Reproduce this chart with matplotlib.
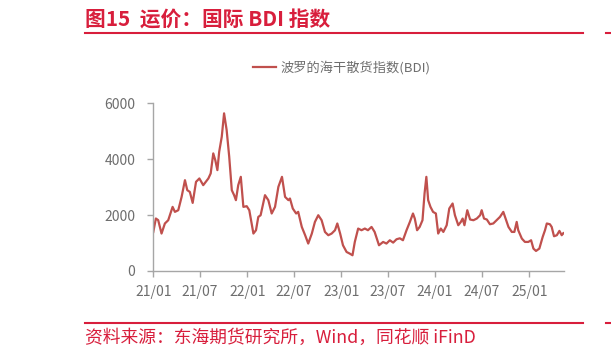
import numpy as np
import pandas as pd
import matplotlib
matplotlib.use("Agg")
from matplotlib import pyplot as plt
import matplotlib.dates as mdates
from matplotlib.lines import Line2D

plt.rcParams['font.family'] = ['Noto Sans CJK SC', 'DejaVu Sans']

# BDI values
dates = [
    "2021-01-01", "2021-01-11", "2021-01-20", "2021-02-02", "2021-02-15", "2021-02-28",
    "2021-03-17", "2021-03-26", "2021-04-08", "2021-04-21", "2021-05-04", "2021-05-13",
    "2021-05-23", "2021-06-03", "2021-06-16", "2021-06-29", "2021-07-14", "2021-08-03",
    "2021-08-12", "2021-08-22", "2021-08-30", "2021-09-07", "2021-09-14", "2021-09-24",
    "2021-10-03", "2021-10-13", "2021-10-23", "2021-11-02", "2021-11-11", "2021-11-18",
    "2021-11-27", "2021-12-07", "2021-12-17", "2021-12-30",
    "2022-01-09", "2022-01-25", "2022-02-04", "2022-02-13", "2022-02-22", "2022-03-11",
    "2022-03-24", "2022-04-06", "2022-04-19", "2022-05-02", "2022-05-16", "2022-05-28",
    "2022-06-10", "2022-06-16", "2022-06-27", "2022-07-10", "2022-07-18", "2022-08-01",
    "2022-08-14", "2022-08-26", "2022-09-09", "2022-09-21", "2022-10-04", "2022-10-17",
    "2022-10-30", "2022-11-12", "2022-11-25", "2022-12-08", "2022-12-17", "2022-12-28",
    "2023-01-08", "2023-01-22", "2023-02-03", "2023-02-14", "2023-02-23", "2023-03-08",
    "2023-03-21", "2023-04-03", "2023-04-15", "2023-04-29", "2023-05-11", "2023-05-28",
    "2023-06-13", "2023-06-26", "2023-07-09", "2023-07-22", "2023-08-04", "2023-08-17",
    "2023-08-29", "2023-09-12", "2023-09-25", "2023-10-07", "2023-10-14", "2023-10-23",
    "2023-11-02", "2023-11-13", "2023-11-21", "2023-11-28", "2023-12-05", "2023-12-14",
    "2023-12-24",
    "2024-01-04", "2024-01-13", "2024-01-23", "2024-02-02", "2024-02-15", "2024-02-25",
    "2024-03-09", "2024-03-18", "2024-03-31", "2024-04-10", "2024-04-17", "2024-04-24",
    "2024-05-05", "2024-05-16", "2024-05-29", "2024-06-11", "2024-06-24", "2024-06-30",
    "2024-07-09", "2024-07-20", "2024-08-01", "2024-08-14", "2024-08-27", "2024-09-09",
    "2024-09-22", "2024-10-03", "2024-10-12", "2024-10-25", "2024-11-04", "2024-11-13",
    "2024-11-19", "2024-12-03", "2024-12-15", "2024-12-28",
    "2025-01-08", "2025-01-17", "2025-01-27", "2025-02-09", "2025-02-22", "2025-03-03",
    "2025-03-10", "2025-03-22", "2025-03-29", "2025-04-07", "2025-04-18", "2025-04-28",
    "2025-05-07", "2025-05-14", "2025-05-20",
]
bdi = [
    1398, 1878, 1820, 1340, 1700, 1817,
    2294, 2115, 2175, 2652, 3250, 2892,
    2830, 2437, 3190, 3311, 3071, 3311,
    3491, 4207, 3960, 3609, 4265, 4803,
    5641, 5043, 4086, 2892, 2713, 2534,
    3071, 3369, 2294, 2319,
    2175, 1340, 1459, 1935, 1995, 2713,
    2534, 2057, 2294, 3011, 3369, 2652,
    2534, 2594, 2235, 2057, 2117, 1577,
    1280, 982, 1340, 1756, 1996, 1817,
    1398, 1280, 1340, 1459, 1700, 1340,
    921, 681, 624, 563, 1040, 1519,
    1459, 1519, 1459, 1577, 1398, 921,
    1040, 982, 1100, 1016, 1135, 1170,
    1100, 1459, 1756, 2057, 1877, 1459,
    1577, 1817, 2774, 3369, 2534, 2294,
    2115,
    2057, 1340, 1519, 1398, 1638, 2235,
    2415, 1996, 1638, 1756, 1877, 1638,
    2175, 1842, 1817, 1877, 1996, 2175,
    1877, 1842, 1673, 1700, 1817, 1935,
    2115, 1817, 1577, 1398, 1398, 1756,
    1459, 1160, 1040, 1040,
    1100, 802, 717, 802, 1219, 1459,
    1700, 1673, 1577, 1243, 1280, 1435,
    1280, 1364, 1316,
]
tick_dates = ["2021-01-01", "2021-07-01", "2022-01-01", "2022-07-01", "2023-01-01",
              "2023-07-01", "2024-01-01", "2024-07-01", "2025-01-01"]
y_ticks = [0, 2000, 4000, 6000]

title = "图15  运价：国际 BDI 指数"
source = "资料来源：东海期货研究所，Wind，同花顺 iFinD"
series_name = "波罗的海干散货指数(BDI)"

red = "#D81E3C"
line_red = "#C0504D"
grey_txt = "#6E6E6E"
grey_axis = "#A6A6A6"

W, H = 611, 356
fig = plt.figure(figsize=(W / 100, H / 100), dpi=100)
ax = fig.add_axes([153.3 / W, 1 - 271 / H, (564.3 - 153.3) / W, (271 - 103.3) / H])

x = pd.to_datetime(dates)
ax.plot(x, bdi, color=line_red, lw=1.6, label=series_name)

ax.set_xlim(pd.Timestamp("2021-01-01"), pd.Timestamp("2025-05-17"))
ax.set_ylim(0, 6000)
ax.set_yticks(y_ticks)
ax.set_xticks(pd.to_datetime(tick_dates))
ax.xaxis.set_major_formatter(mdates.DateFormatter("%y/%m"))

for s in ["top", "right"]:
    ax.spines[s].set_visible(False)
for s in ["left", "bottom"]:
    ax.spines[s].set_color(grey_axis)
    ax.spines[s].set_linewidth(1.0)
ax.tick_params(axis="y", length=4, width=1, color=grey_axis, labelsize=10,
               labelcolor=grey_txt, pad=9)
ax.tick_params(axis="x", length=4, width=1, color=grey_axis, labelsize=10,
               labelcolor=grey_txt, pad=6)

ax.legend(loc="center", bbox_to_anchor=(342 / W, 1 - 68 / H), bbox_transform=fig.transFigure,
          frameon=False, fontsize=9.5, labelcolor=grey_txt, handlelength=1.7,
          handletextpad=0.4)

# header and footer
title_txt = fig.text(85 / W, 1 - 20 / H, title, color=red, fontsize=14, fontweight="bold",
                     va="center", ha="left")
fig.add_artist(Line2D([85 / W, 583 / W], [1 - 33 / H] * 2, color=red, lw=1.5))
fig.add_artist(Line2D([85 / W, 583 / W], [1 - 323 / H] * 2, color=red, lw=1.5))
fig.add_artist(Line2D([606 / W, 1.0], [1 - 33 / H] * 2, color=red, lw=1.5))
fig.add_artist(Line2D([606 / W, 1.0], [1 - 323 / H] * 2, color=red, lw=1.5))
src_txt = fig.text(85 / W, 1 - 338 / H, source, color=red, fontsize=11, va="center",
                   ha="left")

# stretch header/footer text to the widths seen in the reference
fig.canvas.draw()
r = fig.canvas.get_renderer()
tw = title_txt.get_window_extent(r).width
title_txt.set_fontsize(14 * 245 / tw if tw > 0 else 14)
sw = src_txt.get_window_extent(r).width
src_txt.set_fontsize(11 * 391 / sw if sw > 0 else 11)

fig.savefig("out.png", dpi=100)
